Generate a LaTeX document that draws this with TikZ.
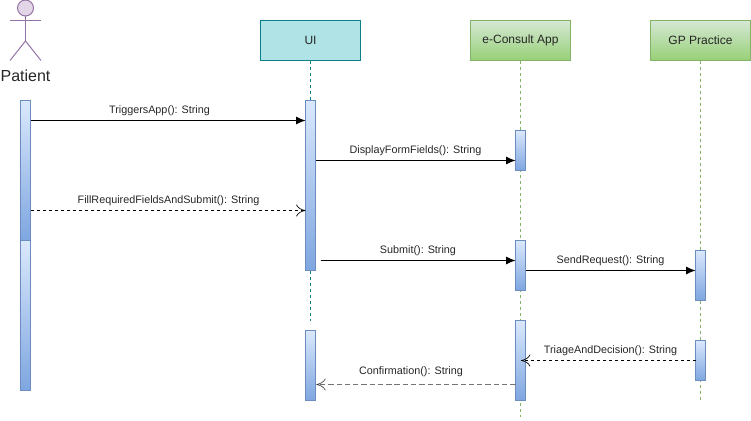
\documentclass[tikz,border=0pt]{standalone}
\usepackage{fontspec}
\setmainfont{Liberation Sans}
\usetikzlibrary{arrows.meta}
\definecolor{actA}{HTML}{DAE8FC}
\definecolor{actB}{HTML}{7EA6E0}
\definecolor{actS}{HTML}{6C8EBF}
\definecolor{grnA}{HTML}{D5E8D4}
\definecolor{grnB}{HTML}{97D077}
\definecolor{grnS}{HTML}{82B366}
\definecolor{tealF}{HTML}{B0E3E6}
\definecolor{tealS}{HTML}{0E8088}
\definecolor{purF}{HTML}{E1D5E7}
\definecolor{purS}{HTML}{9673A6}
\tikzset{
  pxbox/.style={draw,outer sep=0pt,inner sep=0pt,line width=0.75pt,anchor=north west},
  lifebox/.style={pxbox,minimum width=75pt,minimum height=30pt,font=\fontsize{9}{11}\selectfont,text=black!85},
  tealbox/.style={lifebox,draw=tealS,fill=tealF},
  grnbox/.style={lifebox,draw=grnS,top color=grnA,bottom color=grnB},
  actbar/.style={pxbox,draw=actS,top color=actA,bottom color=actB,minimum width=7.5pt},
  tealline/.style={draw=tealS,line width=0.75pt,dash pattern=on 2.25pt off 2.25pt},
  grnline/.style={draw=grnS,line width=0.75pt,dash pattern=on 2.25pt off 2.25pt},
  msg/.style={draw=black,line width=0.75pt,-{Latex[length=7pt,width=6pt]}},
  reply/.style={draw=black,line width=0.75pt,dash pattern=on 2.25pt off 2.25pt,-{To[length=7pt,width=9pt,line width=0.5pt]}},
  greyreply/.style={draw=black!55,line width=1.1pt,dash pattern=on 4pt off 2.2pt,-{To[length=7pt,width=9pt,line width=0.5pt,black!75]}},
  msgtext/.style={font=\fontsize{8.1}{10}\selectfont,text=black!85,inner sep=0pt},
  actorline/.style={draw=purS,line width=0.75pt},
}
\begin{document}
\begin{tikzpicture}[x=0.75pt,y=-0.75pt]
\useasboundingbox (0,0) rectangle (751,421);
% actor
\node[circle,draw=purS,fill=purF,line width=0.75pt,minimum size=12pt,inner sep=0pt,outer sep=0pt] (head) at (25.5,8) {};
\coordinate (neck) at (25.5,20.3);
\coordinate (hip) at (25.5,41);
\coordinate (handL) at (10,20.3);
\coordinate (handR) at (41,20.3);
\coordinate (footL) at (10,60.5);
\coordinate (footR) at (41,60.5);
\draw[actorline] (head.south) -- (hip);
\draw[actorline] (handL) -- (handR);
\draw[actorline] (footL) -- (hip) -- (footR);
\node[font=\fontsize{12}{14}\selectfont,text=black!85,inner sep=0pt] (patient) at (25.5,76) {Patient};
% headers
\node[tealbox] (ui) at (260.5,20.5) {UI};
\node[grnbox] (app) at (470.5,20.5) {e-Consult App};
\node[grnbox] (gp) at (650.5,20.5) {GP Practice};
% lifelines
\coordinate (uiEnd) at (310.5,321);
\coordinate (appEnd) at (520.5,417);
\coordinate (gpEnd) at (700.5,400);
\draw[tealline] (ui.south) -- (uiEnd);
\draw[grnline] (app.south) -- (appEnd);
\draw[grnline] (gp.south) -- (gpEnd);
% activation bars
\node[actbar,minimum height=105pt] (p1) at (20.5,100.5) {};
\node[actbar,minimum height=112.5pt] (p2) at (20.5,240.5) {};
\node[actbar,minimum height=127.5pt] (u1) at (305.5,100.5) {};
\node[actbar,minimum height=52.5pt] (u2) at (305.5,330.5) {};
\node[actbar,minimum height=30pt] (a1) at (515.5,130.5) {};
\node[actbar,minimum height=37.5pt] (a2) at (515.5,240.5) {};
\node[actbar,minimum height=60pt] (a3) at (515.5,320.5) {};
\node[actbar,minimum height=37.5pt] (g1) at (695.5,250.5) {};
\node[actbar,minimum height=30pt] (g2) at (695.5,340.5) {};
% messages
\draw[msg] (p1.east |- 0,120.5) -- (u1.west |- 0,120.5);
\draw[msg] (u1.east |- 0,160.5) -- (a1.west |- 0,160.5);
\draw[reply] (p1.east |- 0,210.5) -- (u1.west |- 0,210.5);
\coordinate (submitStart) at (320.5,260.5);
\draw[msg] (submitStart) -- (a2.west |- submitStart);
\draw[msg] (a2.east |- 0,270.5) -- (g1.west |- 0,270.5);
\coordinate (triageEnd) at (521,360.5);
\draw[reply] (g2.west |- triageEnd) -- (triageEnd);
\draw[greyreply] (a3.west |- 0,384.5) -- ([xshift=0.6pt]u2.east |- 0,384.5);
% labels
\node[msgtext] (t1) at (159.5,111) {TriggersApp(): String};
\node[msgtext] (t2) at (415.5,151) {DisplayFormFields(): String};
\node[msgtext] (t3) at (168.5,201) {FillRequiredFieldsAndSubmit(): String};
\node[msgtext] (t4) at (418,251) {Submit(): String};
\node[msgtext] (t5) at (610.5,261) {SendRequest(): String};
\node[msgtext] (t6) at (610.5,351) {TriageAndDecision(): String};
\node[msgtext] (t7) at (411,372) {Confirmation(): String};
\end{tikzpicture}
\end{document}
